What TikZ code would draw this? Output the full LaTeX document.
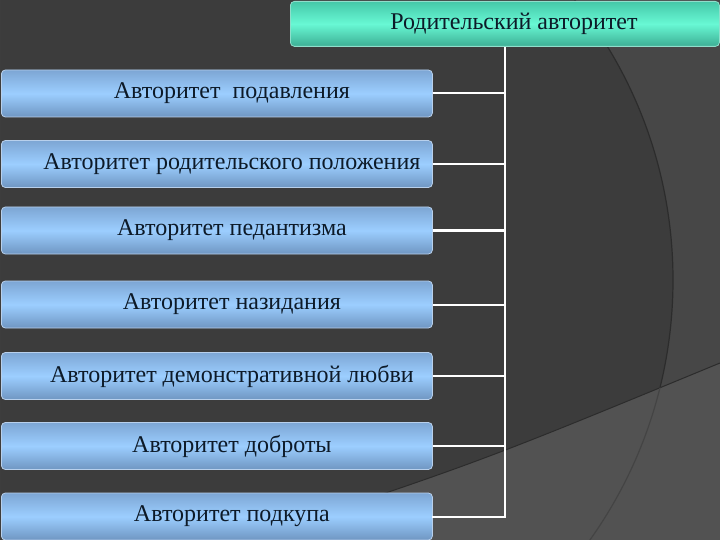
\documentclass[tikz,border=0pt]{standalone}
\usepackage{fontspec}
\setmainfont{Liberation Serif}
\usetikzlibrary{positioning}

\definecolor{bgmain}{HTML}{3C3C3C}
\definecolor{bgright}{HTML}{474747}
\definecolor{bglow}{HTML}{525252}
\definecolor{arcdark}{HTML}{2C2C2C}
\definecolor{arclow}{HTML}{444444}
\definecolor{bluetop}{HTML}{7DA6D4}
\definecolor{bluemid}{HTML}{9CCEFF}
\definecolor{bluebot}{HTML}{6F96C2}
\definecolor{blueedge}{HTML}{B8D0EC}
\definecolor{tealtop}{HTML}{45C8A8}
\definecolor{tealmid}{HTML}{68F8D4}
\definecolor{tealbot}{HTML}{3DAE94}
\definecolor{inkdark}{HTML}{0D1A28}

\tikzset{
  typebox/.style={rectangle, rounded corners=4pt, inner sep=0pt,
    draw=blueedge, line width=0.8pt,
    top color=bluetop, bottom color=bluebot, middle color=bluemid,
    minimum width=431pt, minimum height=47pt, anchor=west},
  headbox/.style={rectangle, rounded corners=4pt, inner sep=0pt,
    draw=tealtop!60!white, line width=0.8pt,
    top color=tealtop, bottom color=tealbot, middle color=tealmid,
    minimum width=429pt, minimum height=45pt, anchor=north west},
  boxtext/.style={text=inkdark, font=\fontsize{24}{28}\selectfont},
  link/.style={draw=white, line width=2pt}
}

\begin{document}
\begin{tikzpicture}[x=1pt, y=-1pt]
    \useasboundingbox (0.000000,0.000000) rectangle (720.000000,540.000000);

    % Drawing background
    \fill [bgmain] (0.000000,0.000000) rectangle (720.000000,540.000000);%
    \begin{scope}
      \clip (0.000000,0.000000) rectangle (720.000000,540.000000);
      \fill [bgright, even odd rule] (0.000000,0.000000) rectangle (720.000000,540.000000)
        (225.000000,280.000000) circle (448.000000);%
      \draw [arcdark, line width=1.2pt] (225.000000,280.000000) circle (448.000000);%
      \fill [bglow] (245.000000,540.000000) .. controls (480.000000,462.000000) .. (720.000000,363.000000)
        -- (720.000000,540.000000) -- cycle;%
      \draw [arcdark, line width=1pt] (245.000000,540.000000) .. controls (480.000000,462.000000) .. (720.000000,363.000000);%
      \begin{scope}
        \clip (245.000000,540.000000) .. controls (480.000000,462.000000) .. (720.000000,363.000000)
          -- (720.000000,540.000000) -- cycle;
        \draw [arclow, line width=1.2pt] (225.000000,280.000000) circle (448.000000);%
      \end{scope}
    \end{scope}

    % Drawing head box
    \node [headbox] (head) at (290.000000,1.000000) {};%
    \node [boxtext] (headtext) at ([xshift=9pt]head.center) {Родительский авторитет};%

    % Drawing type boxes
    \node [typebox] (sup) at (1.000000,93.500000) {};%
    \node [boxtext] (suptext) at ([xshift=15pt]sup.center) {Авторитет~~подавления};%

    \node [typebox] (rank) at (1.000000,164.000000) {};%
    \node [boxtext] (ranktext) at ([xshift=15pt]rank.center) {Авторитет родительского положения};%

    \node [typebox] (pedant) at (1.000000,230.500000) {};%
    \node [boxtext] (pedanttext) at ([xshift=15pt]pedant.center) {Авторитет педантизма};%

    \node [typebox] (preach) at (1.000000,304.500000) {};%
    \node [boxtext] (preachtext) at ([xshift=15pt]preach.center) {Авторитет назидания};%

    \node [typebox] (love) at (1.000000,376.000000) {};%
    \node [boxtext] (lovetext) at ([xshift=15pt]love.center) {Авторитет демонстративной любви};%

    \node [typebox] (kind) at (1.000000,446.000000) {};%
    \node [boxtext] (kindtext) at ([xshift=15pt]kind.center) {Авторитет доброты};%

    \node [typebox] (bribe) at (1.000000,516.500000) {};%
    \node [boxtext] (bribetext) at ([xshift=15pt]bribe.center) {Авторитет подкупа};%

    % Drawing spine and links
    \coordinate (spinebot) at (505.000000,516.500000);
    \draw [link] (head.south -| spinebot) -- (spinebot);%
    \draw [link] (sup.east) -- (sup.east -| spinebot);%
    \draw [link] (rank.east) -- (rank.east -| spinebot);%
    \draw [link] (pedant.east) -- (pedant.east -| spinebot);%
    \draw [link] (preach.east) -- (preach.east -| spinebot);%
    \draw [link] (love.east) -- (love.east -| spinebot);%
    \draw [link] (kind.east) -- (kind.east -| spinebot);%
    \draw [link, line cap=rect] (bribe.east) -- (spinebot);%
\end{tikzpicture}
\end{document}
